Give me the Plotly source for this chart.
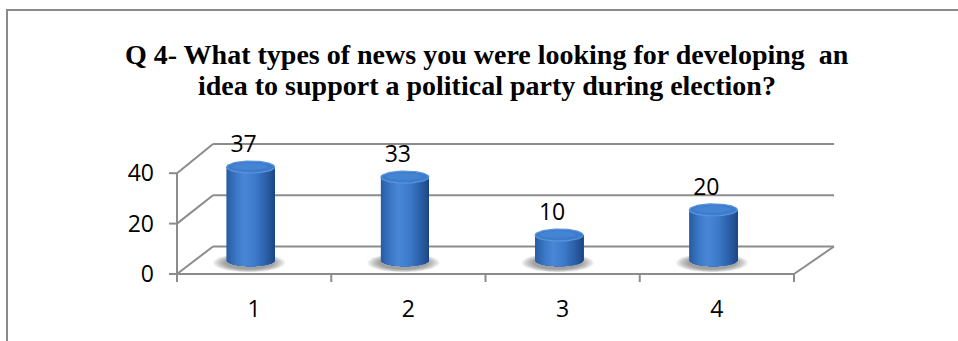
import numpy as np
import plotly.graph_objects as go

# ---------------- data ----------------
categories = ["1", "2", "3", "4"]
values = [37, 33, 10, 20]
y_ticks = [0, 20, 40]
title_lines = ["Q 4- What types of news you were looking for developing\u00a0 an",
               "idea to support a political party during election?"]

# ---------------- layout constants (pixels) ----------------
W, H = 958, 341
PL, PR, PT, PB = 165, 845, 130, 285          # plot area
X0PIX, XUNIT = 177, 154.25                   # front-left floor corner, px per category
Y0PIX, YUNIT = 274, 2.52                     # front floor line, px per value unit
n = len(categories)

xr = [(PL - X0PIX) / XUNIT, (PR - X0PIX) / XUNIT]
yr = [(Y0PIX - PB) / YUNIT, (Y0PIX - PT) / YUNIT]

# oblique projection of the back wall
BACK_DX = 36 / XUNIT
BACK_SX = 155.25 / 154.25
BACK_DY = 27.5 / YUNIT
BACK_SY = 2.5625 / 2.52


def back(x, v):
    return BACK_DX + x * BACK_SX, BACK_DY + v * BACK_SY


LINE = "#8c8c8c"
FONT = "Open Sans"

fig = go.Figure()

# ---------------- walls / axes lines ----------------
lx, ly = [], []


def seg(p, q):
    lx.extend([p[0], q[0], None])
    ly.extend([p[1], q[1], None])


for t in y_ticks:
    seg(back(0, t), back(n, t))              # back wall gridline
    seg((0, t), back(0, t))                  # side wall diagonal
    seg((-8 / XUNIT, t), (0, t))             # y tick mark
seg((0, 0), (0, max(y_ticks)))               # y axis
seg((0, 0), (n, 0))                          # x axis (front floor edge)
seg((n, 0), back(n, 0))                      # right floor edge
for k in range(n + 1):
    seg((k, 0), (k, -8 / YUNIT))             # x tick marks

fig.add_trace(go.Scatter(x=lx, y=ly, mode="lines",
                         line=dict(color=LINE, width=2), hoverinfo="skip"))

# ---------------- cylinders ----------------
R = 24 / XUNIT
B = 6 / YUNIT
BASE = BACK_DY * 0.5
SHIFT = -3.5 / XUNIT
centers = [i + 0.5 + SHIFT for i in range(n)]

# soft shadows under the bases
th = np.linspace(0, 2 * np.pi, 60)
for layer in range(7):
    f = 1.5 - layer * 0.08
    sx, sy = [], []
    for cx in centers:
        sx.extend(list(cx - 0.06 * R + R * f * np.cos(th)) + [None])
        sy.extend(list(BASE - 1.0 + B * (f + 0.1) * np.sin(th)) + [None])
    fig.add_trace(go.Scatter(x=sx, y=sy, mode="lines", fill="toself",
                             fillcolor="rgba(60,60,60,0.085)", line=dict(width=0),
                             hoverinfo="skip"))

stops_u = [-1.0, -0.6, -0.25, 0.2, 0.6, 0.9, 1.0]
stops_c = [(0x2a, 0x5c, 0xa3), (0x3b, 0x78, 0xc6), (0x4a, 0x87, 0xd7),
           (0x3d, 0x7a, 0xc9), (0x2d, 0x63, 0xad), (0x22, 0x50, 0x8f),
           (0x1c, 0x46, 0x83)]


def shade(u):
    rgb = [np.interp(u, stops_u, [c[j] for c in stops_c]) for j in range(3)]
    return "rgb(%d,%d,%d)" % tuple(int(round(v)) for v in rgb)


# body: each layer covers from its start angle to the right edge, so no seams
NS = 40
edges = np.linspace(np.pi, 2 * np.pi, NS + 1)
for s in range(NS):
    arc = np.linspace(edges[s], 2 * np.pi, 40)
    sx, sy = [], []
    for cx, v in zip(centers, values):
        xs = list(cx + R * np.cos(arc)) + list(cx + R * np.cos(arc[::-1]))
        ys = list(BASE + B * np.sin(arc)) + list(BASE + v + B * np.sin(arc[::-1]))
        sx.extend(xs + [None])
        sy.extend(ys + [None])
    col = shade(np.cos((edges[s] + edges[s + 1]) / 2))
    fig.add_trace(go.Scatter(x=sx, y=sy, mode="lines", fill="toself",
                             fillcolor=col, line=dict(width=0),
                             hoverinfo="skip"))

# top ellipses
th = np.linspace(0, 2 * np.pi, 80)
tx, ty = [], []
for cx, v in zip(centers, values):
    tx.extend(list(cx + R * np.cos(th)) + [None])
    ty.extend(list(BASE + v + B * np.sin(th)) + [None])
fig.add_trace(go.Scatter(x=tx, y=ty, mode="lines", fill="toself",
                         fillcolor="#3c7ccd", line=dict(width=1.2, color="#5b95dc"),
                         hoverinfo="skip"))
hx, hy = [], []
for cx, v in zip(centers, values):
    hx.extend(list(cx - 0.05 * R + 0.75 * R * np.cos(th)) + [None])
    hy.extend(list(BASE + v + 0.1 * B + 0.6 * B * np.sin(th)) + [None])
fig.add_trace(go.Scatter(x=hx, y=hy, mode="lines", fill="toself",
                         fillcolor="rgba(80,140,220,0.45)", line=dict(width=0),
                         hoverinfo="skip"))

# data labels
fig.add_trace(go.Scatter(
    x=[cx - 7 / XUNIT for cx in centers],
    y=[BASE + v + 21 / YUNIT for v in values],
    mode="text", text=[str(v) for v in values], textposition="middle center",
    textfont=dict(family=FONT, size=23, color="black"),
    cliponaxis=False, hoverinfo="skip"))

# ---------------- border & title ----------------


def px(p):
    return (p - PL) / (PR - PL)


def py(p):
    return (PB - p) / (PB - PT)


border = dict(type="line", xref="paper", yref="paper",
              line=dict(color="#8a8a8a", width=2))
shapes = [
    dict(border, x0=px(7), x1=px(7), y0=py(10), y1=py(H + 2)),
    dict(border, x0=px(6), x1=px(W + 2), y0=py(10), y1=py(10)),
]

title_font = dict(family="Liberation Serif", size=28, color="black")
annotations = [
    dict(text="<b>%s</b>" % line, xref="paper", yref="paper",
         x=px(487), y=py(cy), xanchor="center", yanchor="middle",
         showarrow=False, font=title_font)
    for line, cy in zip(title_lines, [54, 85])
]

fig.update_layout(
    width=W, height=H,
    margin=dict(l=PL, r=W - PR, t=PT, b=H - PB, pad=0),
    paper_bgcolor="white", plot_bgcolor="white",
    showlegend=False, hovermode=False,
    shapes=shapes, annotations=annotations,
    xaxis=dict(range=xr, showgrid=False, zeroline=False, showline=False,
               tickmode="array", tickvals=[i + 0.5 for i in range(n)],
               ticktext=categories, ticks="", ticklabelstandoff=8,
               tickfont=dict(family=FONT, size=23, color="black"), fixedrange=True),
    yaxis=dict(range=yr, showgrid=False, zeroline=False, showline=False,
               tickmode="array", tickvals=y_ticks, ticks="",
               ticklabelstandoff=10,
               tickfont=dict(family=FONT, size=23, color="black"), fixedrange=True),
)

fig.write_html("out.html",
               config={"displayModeBar": False, "staticPlot": True},
               post_script="document.body.style.margin='0';"
                           "document.documentElement.style.overflow='hidden';")
